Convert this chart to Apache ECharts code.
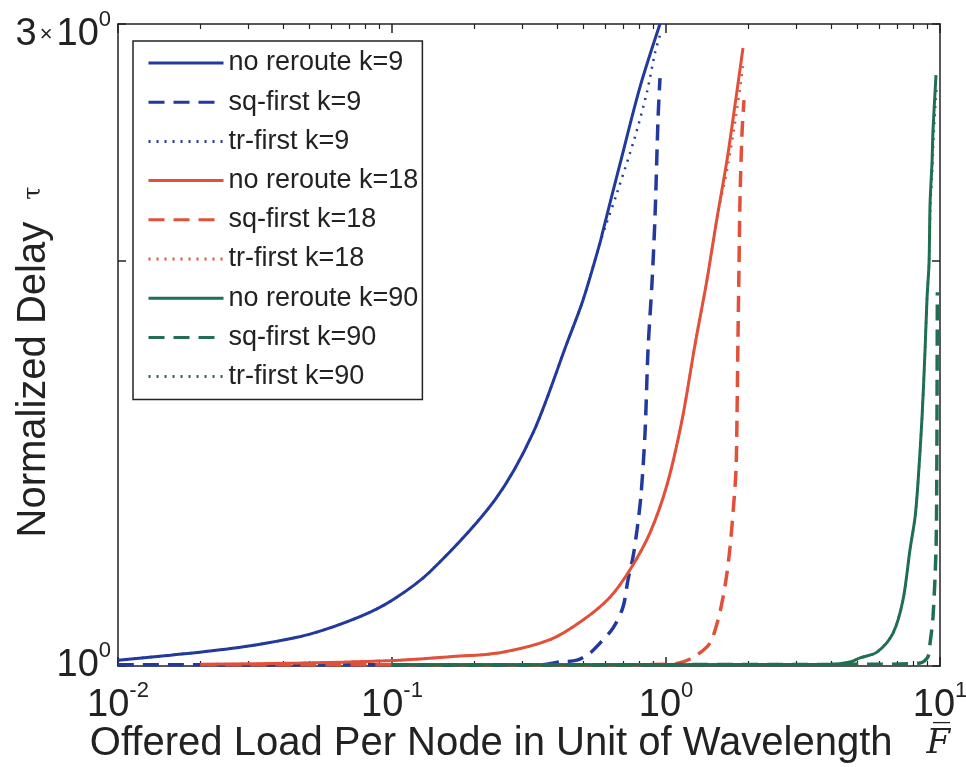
<!DOCTYPE html>
<html>
<head>
<meta charset="utf-8">
<title>Normalized Delay vs Offered Load</title>
<script src="https://cdn.jsdelivr.net/npm/echarts@6/dist/echarts.min.js"></script>
<style>
  html, body { margin: 0; padding: 0; background: #fff; }
  #chart { width: 966px; height: 767px; }
</style>
</head>
<body>
<div id="chart"></div>
<script>
// x: offered load per node, y: normalized delay
const noReroute9 = [
  [0.01, 1.010], [0.0142, 1.017], [0.0217, 1.026], [0.033, 1.038], [0.0502, 1.056],
  [0.0764, 1.088], [0.1008, 1.120], [0.1376, 1.175], [0.2376, 1.329], [0.3271, 1.490],
  [0.4352, 1.738], [0.4981, 1.871], [0.5743, 2.063], [0.5888, 2.106], [0.679, 2.360],
  [0.8035, 2.693], [0.9507, 3.0]
];
const sqFirst9 = [
  [0.01, 1.002], [0.3467, 1.002], [0.41, 1.007], [0.4732, 1.010], [0.528, 1.0225],
  [0.5743, 1.040], [0.6404, 1.067], [0.6966, 1.106], [0.7266, 1.159], [0.7578, 1.205],
  [0.7838, 1.262], [0.8106, 1.340], [0.8384, 1.490], [0.8597, 1.718], [0.8891, 1.927],
  [0.9118, 2.157], [0.935, 2.546], [0.9507, 2.735]
];
const trFirst9 = [
  [0.01, 1.010], [0.0142, 1.017], [0.0217, 1.026], [0.033, 1.038], [0.0502, 1.056],
  [0.0764, 1.088], [0.1008, 1.120], [0.1376, 1.175], [0.2376, 1.329], [0.3271, 1.490],
  [0.4352, 1.738], [0.4981, 1.871], [0.5743, 2.063], [0.605, 2.130], [0.6622, 2.246],
  [0.7705, 2.473], [0.8524, 2.671], [0.9118, 2.855], [0.9507, 2.944]
];
const noReroute18 = [
  [0.02, 1.003], [0.0462, 1.005], [0.1069, 1.010], [0.1628, 1.016], [0.2477, 1.023],
  [0.3773, 1.046], [0.4981, 1.082], [0.6246, 1.125], [0.7389, 1.179], [0.874, 1.256],
  [1.008, 1.363], [1.144, 1.523], [1.276, 1.733], [1.411, 1.936], [1.535, 2.152],
  [1.670, 2.377], [1.786, 2.612], [1.910, 2.879]
];
const sqFirst18 = [
  [0.02, 1.002], [0.5743, 1.002], [1.034, 1.003], [1.153, 1.007], [1.298, 1.019],
  [1.447, 1.040], [1.548, 1.082], [1.615, 1.125], [1.670, 1.173], [1.713, 1.226],
  [1.756, 1.299], [1.801, 1.399], [1.816, 1.531], [1.832, 1.768], [1.847, 1.981],
  [1.862, 2.219], [1.894, 2.488], [1.926, 2.634]
];
const trFirst18 = [
  [0.02, 1.003], [0.0462, 1.005], [0.1069, 1.010], [0.1628, 1.016], [0.2477, 1.023],
  [0.3773, 1.046], [0.4981, 1.082], [0.6246, 1.125], [0.7389, 1.179], [0.874, 1.256],
  [1.008, 1.363], [1.144, 1.523], [1.276, 1.733], [1.411, 1.936], [1.535, 2.152],
  [1.680, 2.350], [1.800, 2.560], [1.915, 2.800]
];
const noReroute90 = [
  [0.1, 1.002], [3.968, 1.003], [4.693, 1.007], [5.105, 1.014], [5.888, 1.024],
  [6.74, 1.058], [7.33, 1.120], [7.77, 1.220], [8.11, 1.290], [8.31, 1.368],
  [8.60, 1.531], [8.82, 1.718], [8.97, 1.879], [9.12, 1.992], [9.20, 2.208],
  [9.35, 2.365], [9.43, 2.502], [9.67, 2.749]
];
const sqFirst90 = [
  [0.1, 1.002], [6.04, 1.003], [8.453, 1.005], [9.04, 1.016], [9.20, 1.040],
  [9.43, 1.088], [9.67, 1.220], [9.73, 1.368], [9.76, 1.623], [9.78, 1.896]
];
const trFirst90 = [
  [0.1, 1.002], [3.968, 1.003], [4.693, 1.007], [5.105, 1.014], [5.888, 1.024],
  [6.74, 1.058], [7.33, 1.120], [7.77, 1.220], [8.11, 1.290], [8.31, 1.368],
  [8.60, 1.531], [8.82, 1.718], [8.97, 1.879], [9.12, 1.992], [9.22, 2.190],
  [9.38, 2.350], [9.48, 2.480], [9.72, 2.700]
];

const seriesNames = [
  'no reroute k=9', 'sq-first k=9', 'tr-first k=9',
  'no reroute k=18', 'sq-first k=18', 'tr-first k=18',
  'no reroute k=90', 'sq-first k=90', 'tr-first k=90'
];
const seriesData = [
  noReroute9, sqFirst9, trFirst9,
  noReroute18, sqFirst18, trFirst18,
  noReroute90, sqFirst90, trFirst90
];

// ticks
const xMajorTicks = [0.01, 0.1, 1, 10];
const xMinorTicks = [
  0.02, 0.03, 0.04, 0.05, 0.06, 0.07, 0.08, 0.09,
  0.2, 0.3, 0.4, 0.5, 0.6, 0.7, 0.8, 0.9,
  2, 3, 4, 5, 6, 7, 8, 9
];
const yTicks = [1, 2, 3];
const yLabelValues = [1, 3];

const BLUE = '#22399e';
const RED = '#e3503a';
const GREEN = '#1f6f50';
const AXIS = '#222';
const FONT = '"Liberation Sans", Arial, Helvetica, sans-serif';

const colors = [BLUE, BLUE, BLUE, RED, RED, RED, GREEN, GREEN, GREEN];
const dashes = ['solid', [16, 9], [2, 6]];
const widths = [3, 3.5, 2.5];

const supRich = {
  b: { fontSize: 38, fontFamily: FONT, color: AXIS, lineHeight: 52 },
  s: { fontSize: 22, fontFamily: FONT, color: AXIS, verticalAlign: 'top', lineHeight: 22 },
  m: { fontSize: 22, fontFamily: FONT, color: AXIS, lineHeight: 52, padding: [0, 4, 0, 3] },
  // empty first line pushes the top y label a bit below its tick
  e: { lineHeight: 22, fontSize: 10 }
};

const chart = echarts.init(document.getElementById('chart'), null, { renderer: 'canvas' });

const xBase = {
  type: 'log',
  logBase: 10,
  min: 0.01,
  max: 10,
  gridIndex: 0,
  splitLine: { show: false },
  minorTick: { show: false }
};

chart.setOption({
  backgroundColor: '#fff',
  animation: false,
  grid: { left: 118, right: 26, top: 24, bottom: 101, containLabel: false, outerBoundsMode: 'none' },
  legend: {
    orient: 'vertical',
    left: 133,
    top: 41,
    padding: [8, 4, 9, 14],
    itemWidth: 75,
    itemHeight: 14,
    itemGap: 11.2,
    backgroundColor: '#fff',
    borderColor: AXIS,
    borderWidth: 1.5,
    borderRadius: 0,
    itemStyle: { opacity: 0 },
    lineStyle: { width: 3 },
    textStyle: { fontSize: 27, fontFamily: FONT, color: AXIS, lineHeight: 28 },
    data: seriesNames
  },
  xAxis: [
    Object.assign({}, xBase, {
      position: 'bottom',
      axisLine: { lineStyle: { color: AXIS, width: 1.5 } },
      axisTick: { inside: true, length: 9, customValues: xMajorTicks, lineStyle: { color: AXIS, width: 1.5 } },
      axisLabel: {
        customValues: xMajorTicks,
        margin: 14,
        formatter: v => '{b|10}{s|' + Math.round(Math.log10(v)) + '}',
        rich: supRich
      },
      name: '{t|Offered Load Per Node in Unit of Wavelength}{g|}{f|F\u0305}',
      nameLocation: 'middle',
      nameGap: 58,
      nameMoveOverlap: false,
      nameTextStyle: {
        rich: {
          t: { fontSize: 40, fontFamily: FONT, color: AXIS },
          g: { width: 34 },
          f: { fontSize: 34, fontFamily: '"DejaVu Serif", serif', fontStyle: 'italic', color: AXIS, padding: [0, 18, 0, 0] }
        }
      }
    }),
    Object.assign({}, xBase, {
      position: 'bottom',
      axisLine: { show: false },
      axisTick: { inside: true, length: 5, customValues: xMinorTicks, lineStyle: { color: AXIS, width: 1.2 } },
      axisLabel: { show: false }
    }),
    Object.assign({}, xBase, {
      position: 'top',
      axisLine: { lineStyle: { color: AXIS, width: 1.5 } },
      axisTick: { inside: true, length: 9, customValues: xMajorTicks, lineStyle: { color: AXIS, width: 1.5 } },
      axisLabel: { show: false }
    }),
    Object.assign({}, xBase, {
      position: 'top',
      axisLine: { show: false },
      axisTick: { inside: true, length: 5, customValues: xMinorTicks, lineStyle: { color: AXIS, width: 1.2 } },
      axisLabel: { show: false }
    })
  ],
  yAxis: [
    {
      type: 'log',
      logBase: 10,
      min: 1,
      max: 3,
      position: 'left',
      splitLine: { show: false },
      axisLine: { lineStyle: { color: AXIS, width: 1.5 } },
      axisTick: { inside: true, length: 8, customValues: yTicks, lineStyle: { color: AXIS, width: 1.5 } },
      axisLabel: {
        customValues: yLabelValues,
        margin: 7,
        formatter: v => (Math.abs(v - 1) < 1e-6 ? '{b|10}{s|0}' : '{e|}\n{b|3}{m|\u00d7}{b|10}{s|0}'),
        rich: supRich
      },
      name: '{t|Normalized Delay}{g|}{tau|\u03c4}',
      nameLocation: 'middle',
      nameGap: 64,
      nameMoveOverlap: false,
      nameTextStyle: {
        rich: {
          t: { fontSize: 40, fontFamily: FONT, color: AXIS },
          g: { width: 22 },
          tau: { fontSize: 24, fontFamily: '"DejaVu Serif", serif', color: AXIS, padding: [0, 34, 0, 0] }
        }
      }
    },
    {
      type: 'log',
      logBase: 10,
      min: 1,
      max: 3,
      position: 'right',
      splitLine: { show: false },
      axisLine: { lineStyle: { color: AXIS, width: 1.5 } },
      axisTick: { inside: true, length: 8, customValues: yTicks, lineStyle: { color: AXIS, width: 1.5 } },
      axisLabel: { show: false }
    }
  ],
  series: seriesNames.map((name, i) => ({
    name: name,
    type: 'line',
    xAxisIndex: 0,
    yAxisIndex: 0,
    data: seriesData[i],
    showSymbol: false,
    symbol: 'none',
    smooth: 0.3,
    color: colors[i],
    lineStyle: { color: colors[i], width: widths[i % 3], type: dashes[i % 3] }
  }))
});
</script>
</body>
</html>
